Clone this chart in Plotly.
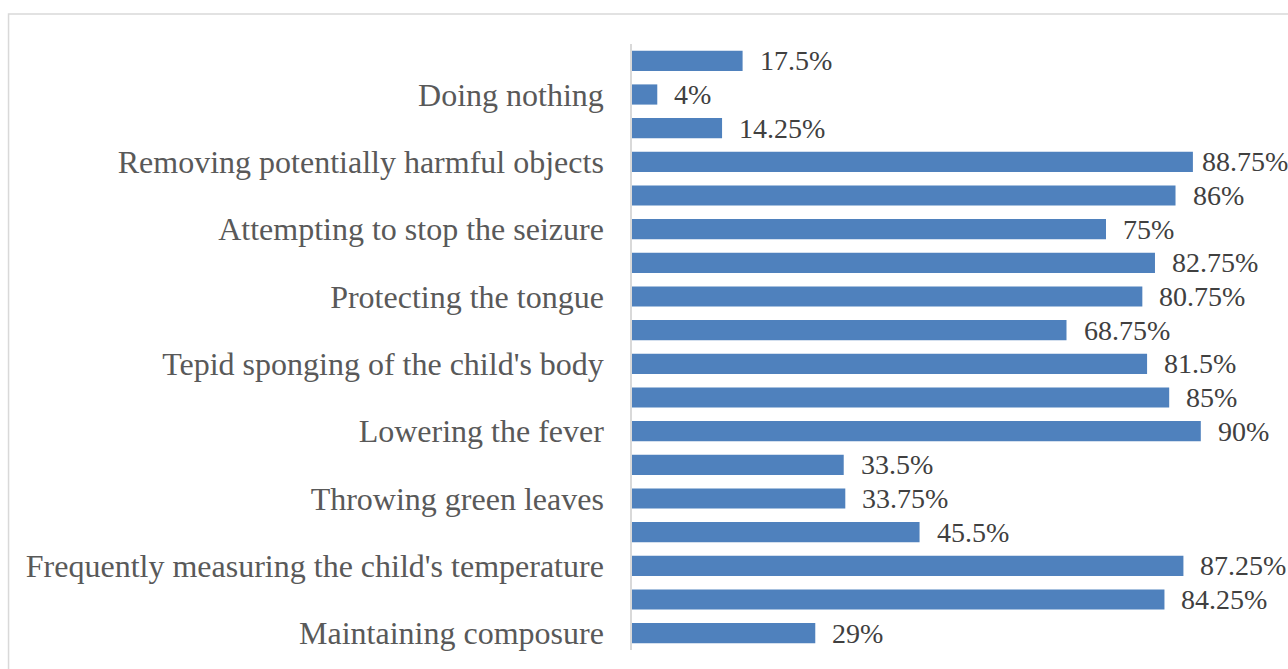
import plotly.graph_objects as go

# Bars listed bottom to top
values = [29, 84.25, 87.25, 45.5, 33.75, 33.5, 90, 85, 81.5, 68.75,
          80.75, 82.75, 75, 86, 88.75, 14.25, 4, 17.5]
value_labels = ["29%", "84.25%", "87.25%", "45.5%", "33.75%", "33.5%", "90%", "85%",
                "81.5%", "68.75%", "80.75%", "82.75%", "75%", "86%", "88.75%",
                "14.25%", "4%", "17.5%"]
tick_positions = [0, 2, 4, 6, 8, 10, 12, 14, 16]
tick_labels = ["Maintaining composure",
               "Frequently measuring the child's temperature",
               "Throwing green leaves",
               "Lowering the fever",
               "Tepid sponging of the child's body",
               "Protecting the tongue",
               "Attempting to stop the seizure",
               "Removing potentially harmful objects",
               "Doing nothing"]

positions = list(range(len(values)))
FONT = "Times New Roman, serif"

fig = go.Figure()
fig.add_trace(go.Bar(
    x=values, y=positions, orientation="h", width=0.6,
    marker=dict(color="#4F81BD", line=dict(color="#4F81BD", width=0)),
    hoverinfo="skip",
))

for v, p, t in zip(values, positions, value_labels):
    # long labels near the right edge are nudged closer to the bar (as Excel does)
    shift = 7 if len(t) >= 6 and v > 88 else 15
    fig.add_annotation(x=v, y=p, text=t, showarrow=False, xanchor="left",
                       yanchor="middle", xshift=shift,
                       font=dict(family=FONT, size=28, color="#404040"))

fig.add_shape(type="rect", xref="paper", yref="paper",
              x0=-0.9865, x1=1.2, y0=-0.2, y1=1.0495,
              line=dict(color="#D9D9D9", width=1.5), fillcolor="rgba(0,0,0,0)")

fig.update_layout(
    width=1288, height=669,
    margin=dict(l=632, r=24, t=44, b=19),
    paper_bgcolor="white", plot_bgcolor="white",
    showlegend=False,
    bargap=0.4,
    font=dict(family=FONT),
    xaxis=dict(range=[0, 100], visible=False, showgrid=False, zeroline=False),
    yaxis=dict(range=[-0.5, 17.5], tickmode="array", tickvals=tick_positions,
               ticktext=tick_labels, showgrid=False, zeroline=False,
               showline=True, linecolor="#D9D9D9", linewidth=1.5,
               ticks="", ticklabelstandoff=20,
               tickfont=dict(family=FONT, size=32, color="#595959")),
)

fig.write_html("out.html")
